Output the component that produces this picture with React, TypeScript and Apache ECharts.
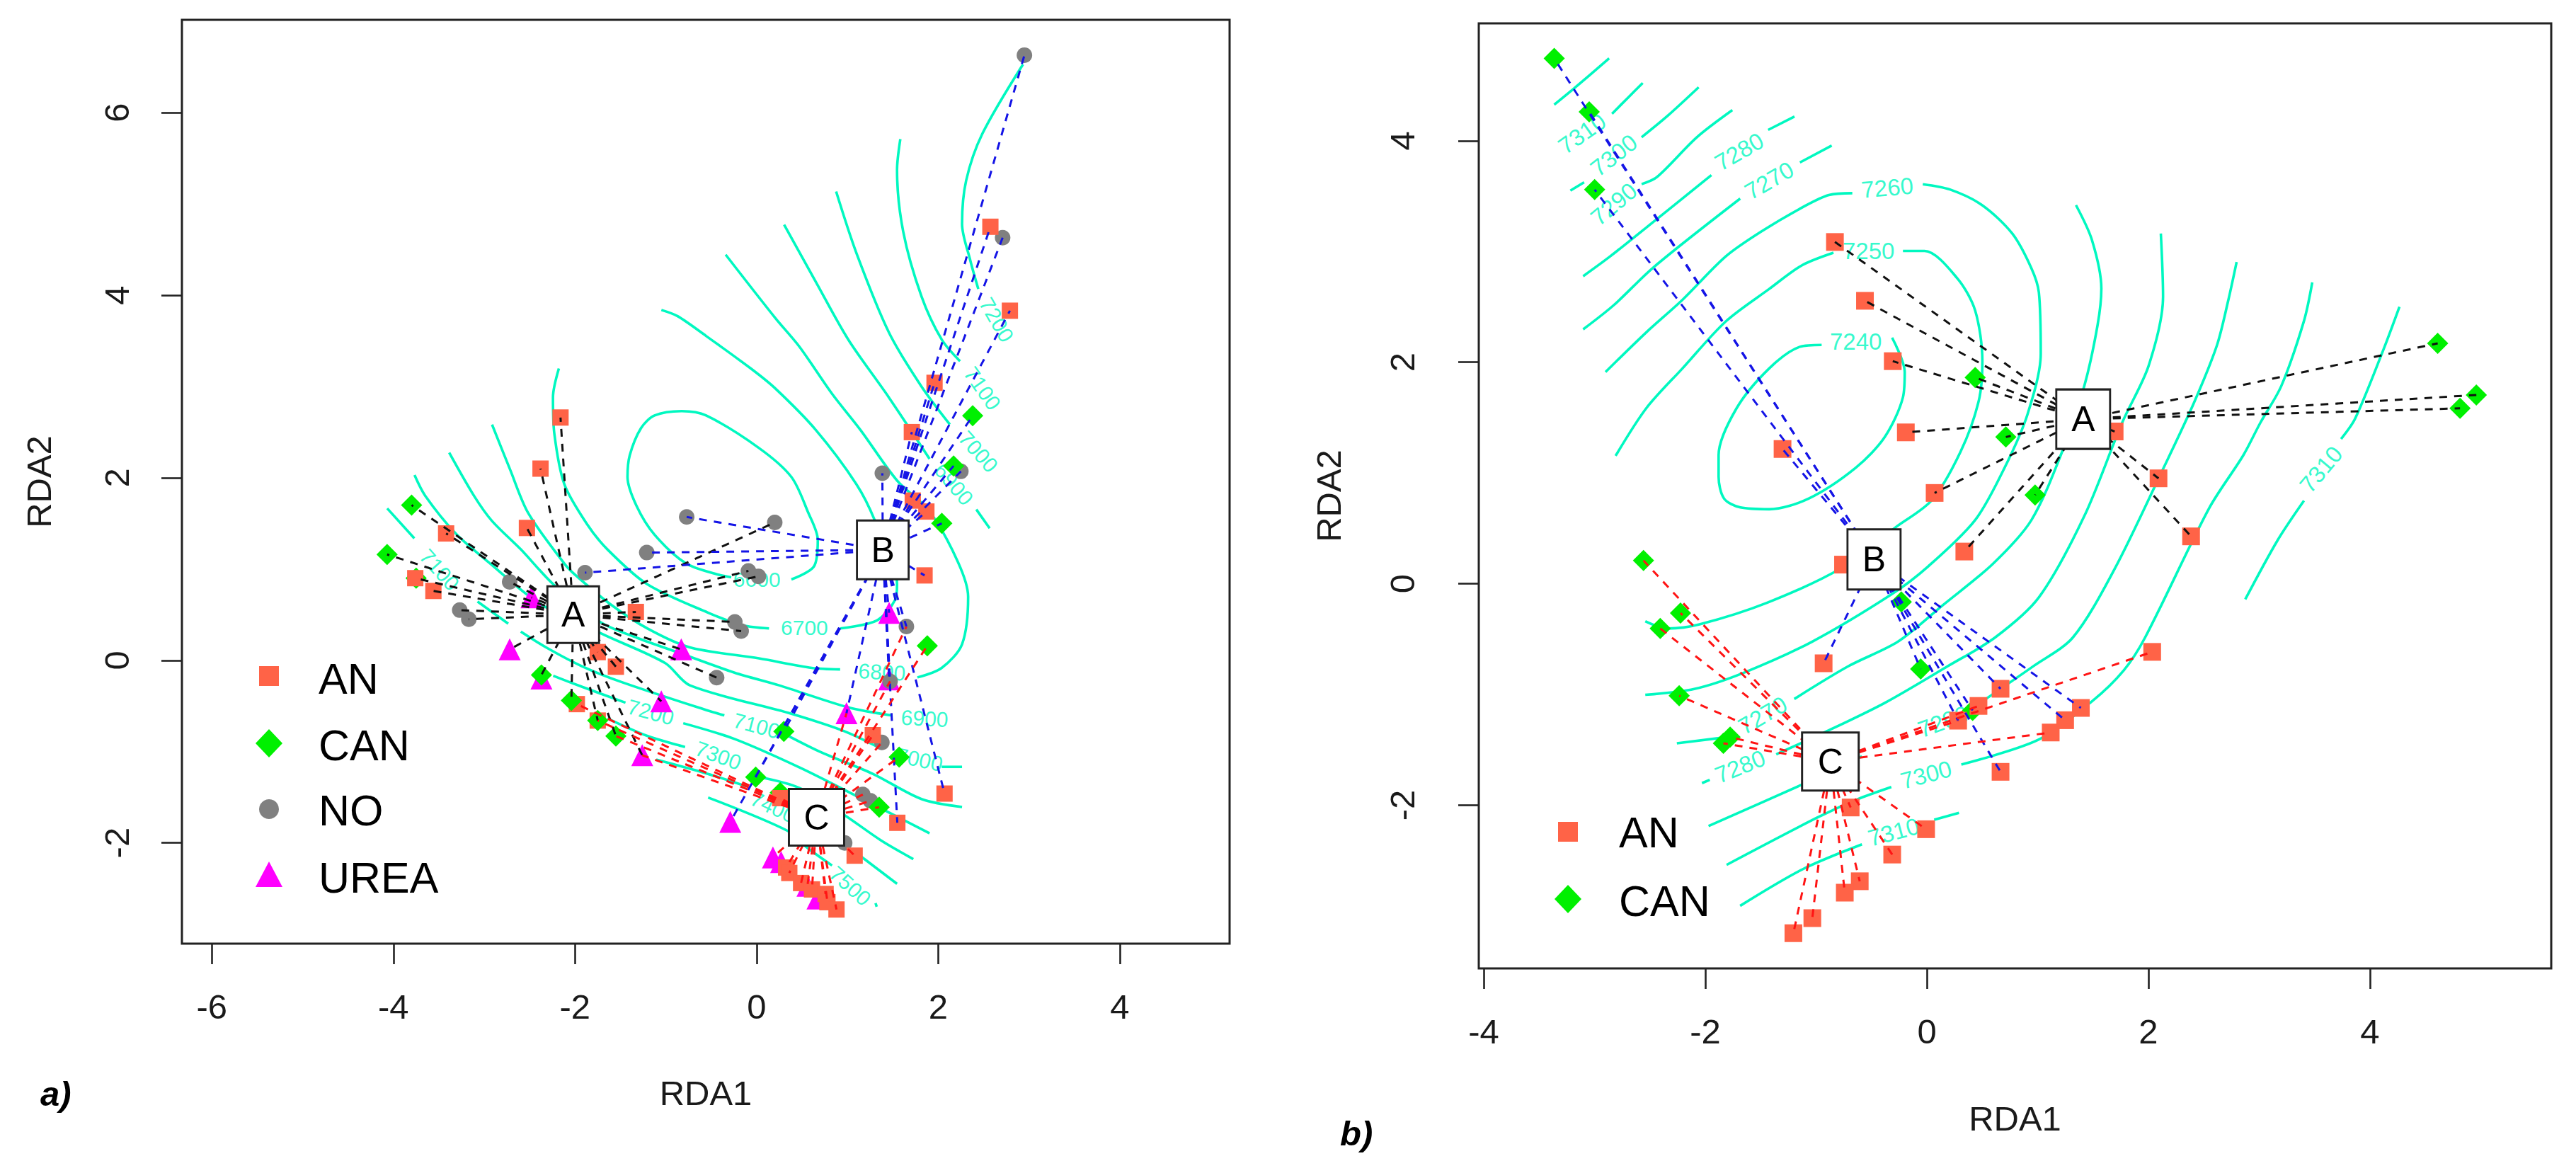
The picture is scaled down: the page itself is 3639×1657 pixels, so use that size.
import React, { useEffect, useRef } from "react";
import * as echarts from "echarts";

type P = number[];
const FONT = "Liberation Sans";
const TEAL = "#00F8C0";
const COLORS = { AN: "#FF6347", CAN: "#00F000", NO: "#808080", UREA: "#FF00FF" };

// ---------- panel a ----------
const xTicksA = [-6, -4, -2, 0, 2, 4];
const yTicksA = [-2, 0, 2, 4, 6];
const anA: P[] = [[-2.16,2.66],[-2.38,2.10],[-2.53,1.45],[-3.42,1.39],[-3.76,.9],[-3.56,.76],[-1.33,.53],[-1.75,.09],[-1.55,-.07],[-1.98,-.48],[-1.75,-.66],[.26,-1.51],[1.28,-.82],[2.07,-1.46],[1.55,-1.78],[1.08,-2.14],[1.85,.93],[.325,-2.27],[.36,-2.33],[.49,-2.44],[.61,-2.51],[.76,-2.56],[.78,-2.65],[.88,-2.73],[2.575,4.75],[2.79,3.83],[1.96,3.04],[1.71,2.5],[1.72,1.75],[1.87,1.63]];
const canA: P[] = [[-3.8,1.7],[-4.07,1.16],[-2.37,-.16],[-2.04,-.44],[-1.75,-.66],[-1.55,-.83],[.3,-.78],[-.01,-1.28],[1.35,-1.61],[1.57,-1.06],[1.88,.16],[2.04,1.5],[2.38,2.68],[2.17,2.13]];
const canUnderA: P[] = [[-3.75,.9],[.26,-1.45]];
const noA: P[] = [[2.95,6.63],[2.71,4.63],[2.25,2.07],[1.385,2.05],[-.77,1.57],[.2,1.51],[-1.21,1.18],[-.09,.98],[.02,.92],[-.24,.42],[-.17,.32],[-.44,-.19],[1.65,.37],[1.47,-.23],[1.38,-.9],[1.17,-1.47],[1.255,-1.54],[.97,-2],[-1.89,.96],[-2.72,.86],[-3.27,.55],[-3.17,.45]];
const ureaA: P[] = [[-2.48,.69],[-2.72,.12],[-2.37,-.2],[-.83,.12],[-1.05,-.45],[-1.26,-1.04],[1.46,.52],[1.46,-.21],[.99,-.58],[-.29,-1.77],[.18,-2.16],[.27,-2.21],[.56,-2.47],[.67,-2.61]];

const centreAA: P = [-2.02, .5];
const centreBA: P = [1.39, 1.21];
const centreCA: P = [.66, -1.72];
const blackLegsA: P[] = [[-2.16,2.66],[-2.38,2.10],[-2.53,1.45],[-3.42,1.39],[-3.76,.9],[-3.56,.76],[-1.33,.53],[-1.75,.09],[-1.55,-.07],[-3.8,1.7],[-4.07,1.16],[-2.37,-.16],[-2.04,-.44],[-1.75,-.66],[-1.55,-.83],[-2.72,.86],[-3.27,.55],[-3.17,.45],[.2,1.51],[-.09,.98],[.02,.92],[-.24,.42],[-.17,.32],[-.44,-.19],[-2.48,.69],[-2.72,.12],[-.83,.12],[-1.05,-.45],[-1.26,-1.04]];
const blueLegsA: P[] = [[2.95,6.63],[2.71,4.63],[2.25,2.07],[1.385,2.05],[-.77,1.57],[-1.21,1.18],[-1.89,.96],[1.65,.37],[1.47,-.23],[2.575,4.75],[2.79,3.83],[1.96,3.04],[1.71,2.5],[1.72,1.75],[1.87,1.63],[1.85,.93],[2.07,-1.46],[1.55,-1.78],[2.38,2.68],[2.17,2.13],[2.04,1.5],[.3,-.78],[-.01,-1.28],[1.46,.52],[1.46,-.21],[.99,-.58],[-.29,-1.77]];
const redLegsA: P[] = [[.26,-1.51],[1.28,-.82],[1.08,-2.14],[.325,-2.27],[.36,-2.33],[.49,-2.44],[.61,-2.51],[.76,-2.56],[.78,-2.65],[.88,-2.73],[1.35,-1.61],[1.57,-1.06],[1.88,.16],[1.65,.37],[1.47,-.23],[1.38,-.9],[1.17,-1.47],[1.255,-1.54],[.97,-2],[-1.98,-.48],[-1.75,-.66],[-1.55,-.83],[-1.26,-1.04],[.99,-.58],[.18,-2.16],[.56,-2.47]];

const contoursA: P[][] = [
  [[.383,.886],[.63,1.025],[.674,1.319],[.563,1.631],[.383,2.009],[.026,2.326],[-.556,2.682],[-.825,2.73],[-1.124,2.682],[-1.273,2.544],[-1.397,2.247],[-1.422,2.009],[-1.323,1.693],[-1.124,1.376],[-.776,1.06],[-.422,.938],[-.279,.91]],
  [[-2.178,3.197],[-2.243,2.88],[-2.228,2.484],[-2.118,1.93],[-1.87,1.495],[-1.643,1.215],[-1.205,.834],[-.537,.523],[-.154,.384],[.137,.349]],
  [[.92,.349],[1.323,.436],[1.525,.661],[1.547,.834],[1.301,1.535],[1.099,1.93],[.652,2.524],[.205,2.979],[-.064,3.197],[-.556,3.553],[-.87,3.77],[-1.049,3.838]],
  [[-2.914,2.583],[-2.715,2.089],[-2.516,1.614],[-2.118,1.06],[-2.0,.938],[-1.603,.609],[-1.205,.35],[-.735,.142],[.026,.021],[.607,-.083],[.92,-.1]],
  [[1.771,-.187],[2.039,-.083],[2.263,.176],[2.33,.696],[2.218,1.077],[1.905,1.631],[1.547,1.97],[1.144,2.524],[.831,2.92],[.473,3.434],[.205,3.751],[-.341,4.444]],
  [[-3.386,2.275],[-3.114,1.804],[-2.915,1.527],[-2.597,1.215],[-2.24,.834],[-1.722,.419],[-1.317,.246],[-.825,.072],[-.243,-.135],[.249,-.274],[1.01,-.516],[1.48,-.603]],
  [[-3.768,2.03],[-3.651,1.804],[-3.313,1.388],[-2.955,1.077],[-2.398,.627],[-1.682,.28],[-1.006,-.031],[-.735,-.274],[.383,-.586],[.965,-.776],[1.368,-.966]],
  [[2.039,-1.167],[2.263,-1.167]],
  [[-4.069,1.665],[-3.77,1.336]],
  [[-3.074,.644],[-2.736,.401]],
  [[-2.597,.315],[-2.319,.142],[-1.921,-.066],[-1.484,-.239],[-.537,-.551],[-.355,-.603]],
  [[.249,-.776],[.697,-1.001],[1.279,-1.243],[1.816,-1.52],[2.263,-1.607]],
  [[-2.24,-.17],[-1.921,-.291],[-1.444,-.464]],
  [[-.808,-.689],[-.243,-.862],[.473,-1.174],[1.099,-1.486],[1.905,-1.895]],
  [[-1.643,-.637],[-1.205,-.828],[-.788,-.949]],
  [[.026,-1.278],[.473,-1.399],[.965,-1.694],[1.368,-1.971],[1.726,-2.178]],
  [[-1.106,-1.088],[-.537,-1.244],[-.109,-1.382]],
  [[1.144,-2.144],[1.547,-2.449]],
  [[-.534,-1.503],[.339,-1.867],[.563,-2.057],[.831,-2.248]],
  [[1.31,-2.66],[1.323,-2.7]],
  [[.303,4.772],[.652,4.147],[1.01,3.514],[1.457,2.88],[1.905,2.207]],
  [[2.42,1.653],[2.567,1.447]],
  [[.876,5.136],[1.099,4.463],[1.457,3.593],[1.816,3.0],[2.129,2.583]],
  [[1.583,5.71],[1.547,5.374],[1.614,4.701],[1.816,3.988],[2.039,3.514],[2.241,3.276]],
  [[2.934,6.529],[2.487,5.77],[2.308,5.255],[2.263,4.78],[2.353,4.384],[2.442,4.068]],
];
const contourLabelsA: (string | number)[][] = [
  ["6600",.003,.886,0],["6700",.527,.356,0],["6800",1.381,-.128,-3],["6900",1.851,-.637,-3],["7000",1.793,-1.087,-12],
  ["7100",0,-.717,-15],["7200",-1.166,-.568,-15],["7300",-.422,-1.043,-20],["7400",.182,-1.607,-25],["7500",1.032,-2.473,-42],
  ["7100",-3.492,.99,-48],["6900",2.173,1.93,-50],["7000",2.442,2.286,-48],["7100",2.487,2.979,-55],["7200",2.643,3.731,-60],
];

// ---------- panel b ----------
const xTicksB = [-4, -2, 0, 2, 4];
const yTicksB = [-2, 0, 2, 4];
const anB: P[] = [[-.83,3.086],[-.559,2.555],[-.308,2.01],[-.19,1.367],[-1.303,1.217],[.07,.82],[.338,.291],[1.695,1.375],[2.091,.952],[2.385,.428],[-.757,.173],[-.932,-.718],[.665,-.948],[.466,-1.103],[.282,-1.236],[.665,-1.698],[1.118,-1.343],[1.248,-1.232],[1.39,-1.121],[2.034,-.615],[-.688,-2.02],[-.007,-2.216],[-.313,-2.445],[-.606,-2.686],[-.741,-2.789],[-1.034,-3.019],[-1.205,-3.155]];
const canB: P[] = [[-3.364,4.744],[-3.048,4.261],[-2.999,3.559],[.436,1.863],[.713,1.325],[.977,.802],[4.611,2.171],[4.96,1.705],[4.813,1.584],[-2.558,.21],[-2.224,-.264],[-2.407,-.404],[-2.236,-1.011],[-1.776,-1.384],[-1.837,-1.44],[-.231,-.164],[-.056,-.77],[.413,-1.144]];

const centreAB: P = [1.411, 1.486];
const centreBB: P = [-.477, .22];
const centreCB: P = [-.871, -1.605];
const blackLegsB: P[] = [[-.83,3.086],[-.559,2.555],[-.308,2.01],[-.19,1.367],[.07,.82],[.338,.291],[1.695,1.375],[2.091,.952],[2.385,.428],[.436,1.863],[.713,1.325],[.977,.802],[4.611,2.171],[4.96,1.705],[4.813,1.584]];
const blueLegsB: P[] = [[-3.364,4.744],[-3.048,4.261],[-2.999,3.559],[-.231,-.164],[-.056,-.77],[.413,-1.144],[-1.303,1.217],[-.932,-.718],[.665,-.948],[.282,-1.236],[.665,-1.698],[1.248,-1.232],[1.39,-1.121]];
const redLegsB: P[] = [[-2.558,.21],[-2.224,-.264],[-2.407,-.404],[-2.236,-1.011],[-1.776,-1.384],[-1.837,-1.44],[2.034,-.615],[1.118,-1.343],[.466,-1.103],[.282,-1.236],[-.688,-2.02],[-.007,-2.216],[-.313,-2.445],[-.606,-2.686],[-.741,-2.789],[-1.034,-3.019],[-1.205,-3.155]];

const contoursB: P[][] = [
  [[-3.364,4.326],[-3.185,4.473],[-2.868,4.744]],
  [[-2.842,4.244],[-2.696,4.391],[-2.565,4.522]],
  [[-2.575,4.032],[-2.337,4.228],[-2.06,4.483]],
  [[-3.218,3.55],[-3.094,3.625]],
  [[-2.575,3.608],[-2.435,3.674],[-2.076,4.032],[-1.756,4.277]],
  [[-3.103,2.777],[-2.859,2.956],[-2.532,3.217],[-1.945,3.69]],
  [[-1.433,4.098],[-1.195,4.218]],
  [[-3.103,2.297],[-2.826,2.516],[-2.467,2.858],[-1.685,3.478]],
  [[-1.146,3.804],[-.859,3.957]],
  [[-2.901,1.912],[-2.532,2.271],[-2.206,2.564],[-1.815,2.956],[-1.489,3.184],[-1.097,3.413],[-.885,3.51],[-.673,3.527]],
  [[-.037,3.608],[.208,3.56],[.498,3.419],[.771,3.162],[.943,2.85],[1.011,2.63],[1.028,2.079],[.908,1.529],[.703,1.051],[.436,.575],[.012,.157],[-.321,-.097],[-1.034,-.522],[-1.645,-.8],[-2.093,-.948],[-2.542,-1.003]],
  [[-.843,2.989],[-1.13,2.874],[-1.423,2.662],[-1.815,2.369],[-2.206,1.945],[-2.532,1.586],[-2.81,1.155]],
  [[-.216,3.005],[-.021,3.005],[.273,2.76],[.436,2.467],[.501,2.01],[.468,1.651],[.305,1.194],[.044,.754],[-.282,.51],[-.769,.143],[-1.441,-.171],[-2.053,-.367],[-2.338,-.404],[-2.542,-.338]],
  [[-.95,2.157],[-1.146,2.14],[-1.423,1.945],[-1.717,1.586],[-1.88,1.162],[-1.88,.966],[-1.831,.77],[-1.684,.689],[-1.423,.673],[-1.065,.77],[-.641,1.048],[-.38,1.325],[-.216,1.684],[-.2,1.912],[-.314,2.222]],
  [[1.346,3.419],[1.489,3.107],[1.575,2.666],[1.541,2.336],[1.421,1.786],[1.216,1.18],[.943,.574],[.596,.18],[.148,-.19],[-.26,-.522],[-.708,-.744],[-1.197,-1.04]],
  [[-1.849,-1.39],[-2.257,-1.44]],
  [[2.112,3.162],[2.132,2.593],[2.002,1.969],[1.763,1.455],[1.421,.611],[1.011,-.123],[.616,-.485],[.189,-.744],[-.382,-1.077],[-.912,-1.336],[-1.36,-1.54]],
  [[-2.03,-1.8],[-1.96,-1.77]],
  [[2.796,2.905],[2.72,2.556],[2.618,2.152],[2.413,1.639],[2.139,1.051],[1.695,.134],[1.318,-.485],[.963,-.743],[.474,-1.08]],
  [[-.586,-1.558],[-1.136,-1.817],[-1.971,-2.187]],
  [[3.479,2.721],[3.404,2.373],[3.199,1.785],[3.011,1.455],[2.857,1.161],[2.549,.684],[1.97,-.485],[1.778,-.781],[1.493,-1.059],[1.004,-1.41],[.311,-1.632]],
  [[-.321,-1.835],[-.627,-1.946],[-.993,-2.113],[-1.808,-2.538]],
  [[4.266,2.501],[4.122,2.116],[3.866,1.492],[3.739,1.308]],
  [[3.404,.75],[3.165,.391],[2.874,-.141]],
  [[-1.686,-2.908],[-1.116,-2.575],[-.586,-2.353]],
  [[.066,-2.131],[.29,-2.068]],
];
const contourLabelsB: (string | number)[][] = [
  ["7310",-3.113,4.065,35],["7300",-2.826,3.869,38],["7290",-2.826,3.429,40],["7280",-1.694,3.902,30],["7270",-1.423,3.641,30],
  ["7260",-.357,3.576,5],["7250",-.526,3.005,0],["7240",-.641,2.189,0],["7310",3.558,1.033,50],["7270",-1.482,-1.188,30],
  ["7280",-1.686,-1.65,22],["7290",.148,-1.244,20],["7300",-.007,-1.724,15],["7310",-.3,-2.242,15],
];

function panelSeries(i: number, p: {
  contours: P[][]; labels: (string | number)[][]; labelSize: number;
  groups: { name: string; symbol: string; size: number; color: string; data: P[] }[];
  legs: { from: P; to: P[]; color: string }[];
  boxes: { text: string; at: P; size: number[] }[];
}) {
  const axes = { xAxisIndex: i, yAxisIndex: i };
  const out: any[] = [];
  p.contours.forEach((c) => out.push({
    type: "line", ...axes, data: c, showSymbol: false, symbol: "none", silent: true, z: 2,
    smooth: 0.3, lineStyle: { color: TEAL, width: 3.6 },
  }));
  out.push({
    type: "scatter", ...axes, symbolSize: 0, silent: true, z: 2,
    data: p.labels.map((l) => ({
      value: [l[1], l[2]],
      label: { show: true, position: "inside", formatter: String(l[0]), rotate: l[3], color: TEAL, fontSize: p.labelSize, fontFamily: FONT },
    })),
  });
  p.groups.forEach((g) => out.push({
    type: "scatter", ...axes, name: g.name, data: g.data, symbol: g.symbol, symbolSize: g.size, z: 3,
    itemStyle: { color: g.color, opacity: 1 },
  }));
  p.legs.forEach((l) => l.to.forEach((t) => out.push({
    type: "line", ...axes, data: [l.from, t], showSymbol: false, symbol: "none", silent: true, z: 4,
    lineStyle: { color: l.color, width: 3, type: [11, 10] },
  })));
  p.boxes.forEach((b) => out.push({
    type: "scatter", ...axes, data: [b.at], symbol: "rect", symbolSize: b.size, z: 5, silent: true,
    itemStyle: { color: "#fff", borderColor: "#222", borderWidth: 3, opacity: 1 },
    label: { show: true, position: "inside", formatter: b.text, fontSize: 50, color: "#000", fontFamily: FONT },
  }));
  return out;
}

function xAxis(grid: number, ticks: number[], min: number, max: number, nameGap: number) {
  return {
    type: "value", gridIndex: grid, min, max, name: "RDA1", nameLocation: "middle", nameGap,
    nameTextStyle: { fontSize: 49, color: "#1a1a1a", fontFamily: FONT },
    axisLine: { show: false, onZero: false }, splitLine: { show: false },
    axisTick: { show: true, length: 29, lineStyle: { color: "#222", width: 2.6 }, customValues: ticks },
    axisLabel: { show: true, margin: 64, fontSize: 49, color: "#1a1a1a", fontFamily: FONT, customValues: ticks, hideOverlap: false },
  };
}
function yAxis(grid: number, ticks: number[], min: number, max: number, nameGap: number, margin: number) {
  return {
    type: "value", gridIndex: grid, min, max, name: "RDA2", nameLocation: "middle", nameGap, nameRotate: 90,
    nameTextStyle: { fontSize: 49, color: "#1a1a1a", fontFamily: FONT },
    axisLine: { show: false, onZero: false }, splitLine: { show: false },
    axisTick: { show: true, length: 29, lineStyle: { color: "#222", width: 2.6 }, customValues: ticks },
    axisLabel: { show: true, margin, rotate: 90, fontSize: 49, color: "#1a1a1a", fontFamily: FONT, customValues: ticks, hideOverlap: false },
  };
}

function legendGraphics(sx: number, tx: number, items: { name: string; y: number; ty: number }[]) {
  const out: any[] = [];
  items.forEach((it) => {
    if (it.name === "AN") out.push({ type: "rect", shape: { x: sx - 14, y: it.y - 14, width: 28, height: 28 }, style: { fill: COLORS.AN } });
    if (it.name === "CAN") out.push({ type: "polygon", shape: { points: [[sx, it.y - 20], [sx + 19, it.y], [sx, it.y + 20], [sx - 19, it.y]] }, style: { fill: COLORS.CAN } });
    if (it.name === "NO") out.push({ type: "circle", shape: { cx: sx, cy: it.y, r: 14 }, style: { fill: COLORS.NO } });
    if (it.name === "UREA") out.push({ type: "polygon", shape: { points: [[sx, it.y - 19], [sx + 19, it.y + 17], [sx - 19, it.y + 17]] }, style: { fill: COLORS.UREA } });
    out.push({ type: "text", x: tx, y: it.ty, style: { text: it.name, font: `61px "${FONT}"`, fill: "#000", textAlign: "left", textVerticalAlign: "middle" } });
  });
  return out;
}

export default function App() {
  const ref = useRef<HTMLDivElement>(null);
  useEffect(() => {
    document.body.style.margin = "0";
    const chart = echarts.init(ref.current!, undefined, { renderer: "svg" });
    const groupsA = [
      { name: "CAN", symbol: "diamond", size: 30, color: COLORS.CAN, data: canUnderA },
      { name: "UREA", symbol: "triangle", size: 31, color: COLORS.UREA, data: ureaA },
      { name: "NO", symbol: "circle", size: 22, color: COLORS.NO, data: noA },
      { name: "AN", symbol: "rect", size: 23, color: COLORS.AN, data: anA },
      { name: "CAN", symbol: "diamond", size: 30, color: COLORS.CAN, data: canA },
    ];
    const groupsB = [
      { name: "CAN", symbol: "diamond", size: 30, color: COLORS.CAN, data: canB },
      { name: "AN", symbol: "rect", size: 25, color: COLORS.AN, data: anB },
    ];
    chart.setOption({
      animation: false,
      backgroundColor: "#fff",
      grid: [
        { left: 257, top: 28, width: 1480, height: 1305, show: true, borderColor: "#222", borderWidth: 3, backgroundColor: "#fff" },
        { left: 2089, top: 33, width: 1515, height: 1335, show: true, borderColor: "#222", borderWidth: 3, backgroundColor: "#fff" },
      ],
      xAxis: [xAxis(0, xTicksA, -6.33, 5.21, 186), xAxis(1, xTicksB, -4.045, 5.636, 187)],
      yAxis: [yAxis(0, yTicksA, -3.104, 7.017, 178, 68), yAxis(1, yTicksB, -3.473, 5.06, 188, 84)],
      series: [
        ...panelSeries(0, {
          contours: contoursA, labels: contourLabelsA, labelSize: 30, groups: groupsA,
          legs: [
            { from: centreAA, to: blackLegsA, color: "#111" },
            { from: centreBA, to: blueLegsA, color: "#1414E6" },
            { from: centreCA, to: redLegsA, color: "#FF1414" },
          ],
          boxes: [
            { text: "A", at: centreAA, size: [73, 80] },
            { text: "B", at: centreBA, size: [73, 83] },
            { text: "C", at: centreCA, size: [78, 80] },
          ],
        }),
        ...panelSeries(1, {
          contours: contoursB, labels: contourLabelsB, labelSize: 33, groups: groupsB,
          legs: [
            { from: centreAB, to: blackLegsB, color: "#111" },
            { from: centreBB, to: blueLegsB, color: "#1414E6" },
            { from: centreCB, to: redLegsB, color: "#FF1414" },
          ],
          boxes: [
            { text: "A", at: centreAB, size: [76, 84] },
            { text: "B", at: centreBB, size: [75, 85] },
            { text: "C", at: centreCB, size: [80, 82] },
          ],
        }),
      ],
      graphic: [
        ...legendGraphics(380, 450, [
          { name: "AN", y: 955, ty: 959 }, { name: "CAN", y: 1050, ty: 1053 },
          { name: "NO", y: 1143, ty: 1145 }, { name: "UREA", y: 1236, ty: 1240 },
        ]),
        ...legendGraphics(2215, 2287, [
          { name: "AN", y: 1175, ty: 1176 }, { name: "CAN", y: 1270, ty: 1273 },
        ]),
        { type: "text", x: 57, y: 1545, style: { text: "a)", font: `italic bold 49px "${FONT}"`, fill: "#000", textVerticalAlign: "middle" } },
        { type: "text", x: 1893, y: 1601, style: { text: "b)", font: `italic bold 49px "${FONT}"`, fill: "#000", textVerticalAlign: "middle" } },
      ],
    });
    return () => chart.dispose();
  }, []);
  return <div ref={ref} style={{ position: "absolute", left: 0, top: 0, width: 3639, height: 1657 }} />;
}
